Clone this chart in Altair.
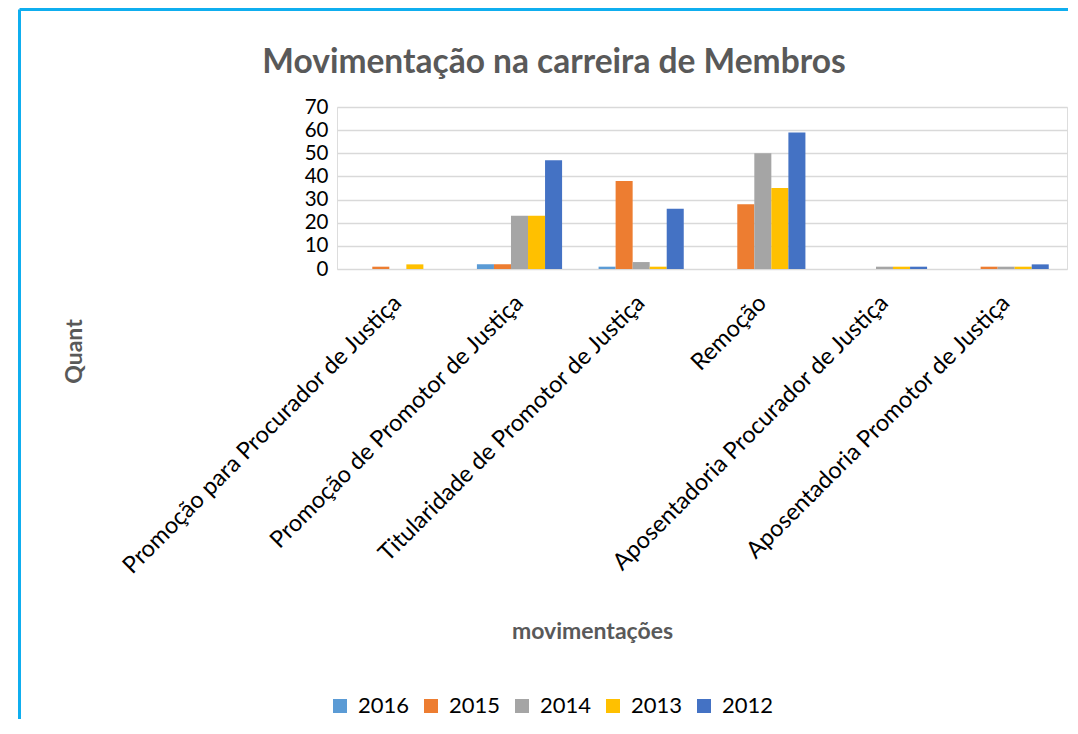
import altair as alt
import pandas as pd

categories = [
    "Promoção para Procurador de Justiça",
    "Promoção de Promotor de Justiça",
    "Titularidade de Promotor de Justiça",
    "Remoção",
    "Aposentadoria Procurador de Justiça",
    "Aposentadoria Promotor de Justiça",
]
years = ["2016", "2015", "2014", "2013", "2012"]
v2016 = [0, 2, 1, 0, 0, 0]
v2015 = [1, 2, 38, 28, 0, 1]
v2014 = [0, 23, 3, 50, 1, 1]
v2013 = [2, 23, 1, 35, 1, 1]
v2012 = [0, 47, 26, 59, 1, 2]
colors = ["#5B9BD5", "#ED7D31", "#A5A5A5", "#FFC000", "#4472C4"]

series = {"2016": v2016, "2015": v2015, "2014": v2014, "2013": v2013, "2012": v2012}
rows = []
for y in years:
    for c, v in zip(categories, series[y]):
        rows.append({"cat": c, "year": y, "value": v})
df = pd.DataFrame(rows)

FONT = "Lato"
W, H = 730, 162

bars = alt.Chart(df).mark_bar().encode(
    x=alt.X(
        "cat:N",
        sort=categories,
        scale=alt.Scale(paddingInner=0.3, paddingOuter=0.15),
        axis=alt.Axis(
            title="movimentações",
            labelAngle=-45,
            labelAlign="right",
            labelBaseline="middle",
            labelPadding=30,
            labelLimit=0,
            labelFontSize=23.5,
            labelColor="#000000",
            labelFont=FONT,
            domain=False,
            ticks=False,
            titleFont=FONT,
            titleFontSize=23,
            titleFontWeight="bold",
            titleColor="#595959",
            titleX=255,
            titleY=369,
            titleAlign="center",
            titleBaseline="alphabetic",
        ),
    ),
    xOffset=alt.XOffset("year:N", sort=years),
    y=alt.Y(
        "value:Q",
        scale=alt.Scale(domain=[0, 70]),
        axis=alt.Axis(
            title="Quant",
            values=[0, 10, 20, 30, 40, 50, 60, 70],
            labelFontSize=20.5,
            labelColor="#000000",
            labelFont=FONT,
            labelPadding=9,
            domain=False,
            ticks=False,
            grid=True,
            gridColor="#D9D9D9",
            gridWidth=1.6,
            titleFont=FONT,
            titleFontSize=23,
            titleFontWeight="bold",
            titleColor="#595959",
            titleAngle=-90,
            titleX=-262.5,
            titleY=244,
            titleAlign="center",
            titleBaseline="middle",
        ),
    ),
    color=alt.Color(
        "year:N",
        sort=years,
        scale=alt.Scale(domain=years, range=colors),
        legend=alt.Legend(
            title=None,
            orient="none",
            direction="horizontal",
            columns=5,
            legendX=-8,
            legendY=588,
            symbolType="square",
            symbolSize=196,
            symbolStrokeWidth=0,
            labelFontSize=22,
            labelFont=FONT,
            labelColor="#000000",
            labelOffset=7,
            columnPadding=10,
            padding=0,
        ),
    ),
)

one = pd.DataFrame({"k": [0]})
top_line = alt.Chart(one).mark_rule(color="#0FAEEF", strokeWidth=3, strokeCap="butt").encode(
    x=alt.value(-317.5), x2=alt.value(731), y=alt.value(-97.5)
)
left_line = alt.Chart(one).mark_rule(color="#0FAEEF", strokeWidth=3, strokeCap="butt").encode(
    x=alt.value(-317.5), y=alt.value(-97.5), y2=alt.value(612)
)

chart = alt.layer(bars, top_line, left_line).properties(
    width=W,
    height=H,
    padding={"left": 10, "top": 0, "right": 0, "bottom": 0},
    title=alt.TitleParams(
        "Movimentação na carreira de Membros",
        font=FONT,
        fontSize=33.5,
        fontWeight="bold",
        color="#595959",
        anchor="middle",
        dx=-148,
        offset=-72,
    ),
).configure_view(stroke=None).configure(background="white")

chart.save("out.html", embed_options={"renderer": "svg", "actions": False})
